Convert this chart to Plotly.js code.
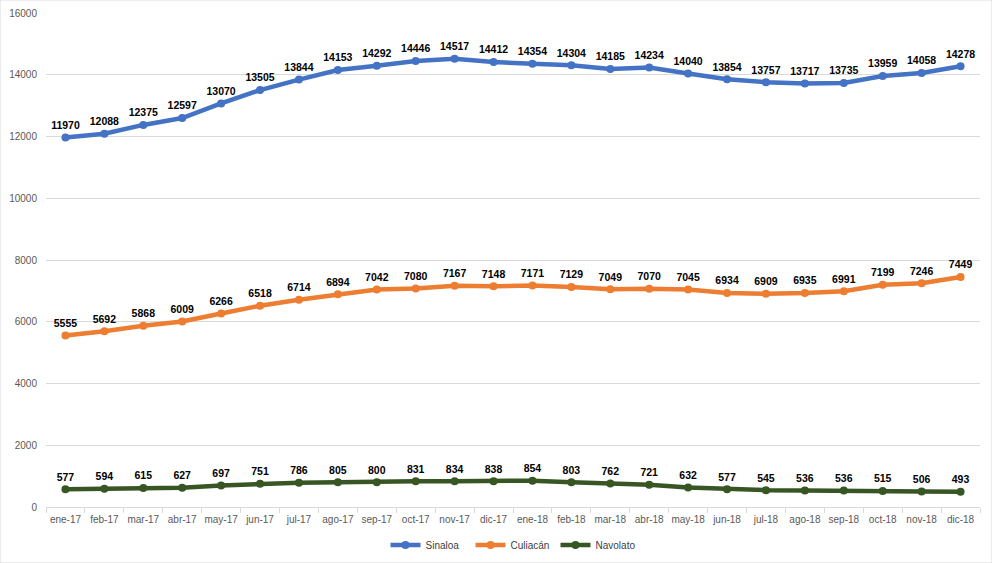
<!DOCTYPE html>
<html>
<head>
<meta charset="utf-8">
<script src="https://cdn.plot.ly/plotly-3.0.1.min.js"></script>
<style>
  html, body { margin: 0; padding: 0; background: #ffffff; }
  #chart { width: 992px; height: 563px; }
</style>
</head>
<body>
<div id="chart"></div>
<script>
// Monthly months, Jan 2017 – Dec 2018
const months = ["ene-17","feb-17","mar-17","abr-17","may-17","jun-17","jul-17","ago-17","sep-17","oct-17","nov-17","dic-17",
                "ene-18","feb-18","mar-18","abr-18","may-18","jun-18","jul-18","ago-18","sep-18","oct-18","nov-18","dic-18"];

const sinaloa = [11970,12088,12375,12597,13070,13505,13844,14153,14292,14446,14517,14412,
                 14354,14304,14185,14234,14040,13854,13757,13717,13735,13959,14058,14278];

const culiacan = [5555,5692,5868,6009,6266,6518,6714,6894,7042,7080,7167,7148,
                  7171,7129,7049,7070,7045,6934,6909,6935,6991,7199,7246,7449];

const navolato = [577,594,615,627,697,751,786,805,800,831,834,838,
                  854,803,762,721,632,577,545,536,536,515,506,493];

const yTicks = [0,2000,4000,6000,8000,10000,12000,14000,16000];

const labelFont = { family: "Liberation Sans, Arial, sans-serif", size: 10.5, color: "#000000", weight: "bold" };

function series(name, values, color) {
  return {
    type: "scatter",
    mode: "lines+markers+text",
    name: name,
    x: months,
    y: values,
    text: values.map(String),
    textposition: "top center",
    textfont: labelFont,
    line: { color: color, width: 4.5 },
    marker: { color: color, size: 8 },
    cliponaxis: false,
    hoverinfo: "x+y"
  };
}

const data = [
  series("Sinaloa", sinaloa, "#4472C4"),
  series("Culiacán", culiacan, "#ED7D31"),
  series("Navolato", navolato, "#375623")
];

const layout = {
  width: 992,
  height: 563,
  margin: { l: 46, r: 12, t: 13, b: 56, autoexpand: false },
  paper_bgcolor: "#ffffff",
  plot_bgcolor: "#ffffff",
  font: { family: "Liberation Sans, Arial, sans-serif", size: 10, color: "#595959" },
  showlegend: true,
  legend: {
    orientation: "h",
    x: 0.5, xanchor: "center",
    yref: "container",
    y: 0.032, yanchor: "middle",
    font: { size: 10, color: "#404040" },
    itemwidth: 30,
    entrywidth: 40,
    tracegroupgap: 0
  },
  xaxis: {
    type: "category",
    range: [-0.5, 23.5],
    automargin: false,
    showgrid: false,
    showline: true,
    linecolor: "#d9d9d9",
    linewidth: 1,
    ticks: "outside",
    tickson: "boundaries",
    ticklen: 5,
    tickcolor: "#d9d9d9",
    tickangle: 0,
    ticklabelstandoff: 3,
    tickfont: { size: 10, color: "#595959" },
    zeroline: false,
    fixedrange: true
  },
  yaxis: {
    range: [0, 16000],
    automargin: false,
    tickvals: yTicks,
    ticktext: yTicks.map(String),
    showgrid: true,
    gridcolor: "#d9d9d9",
    gridwidth: 1,
    zeroline: false,
    showline: false,
    ticks: "",
    ticklabelstandoff: 8,
    tickfont: { size: 10, color: "#595959" },
    fixedrange: true
  },
  shapes: [{
    type: "rect", xref: "paper", yref: "paper",
    x0: -46/934, x1: 1 + 12/934, y0: -56/494, y1: 1 + 13/494,
    line: { color: "#d9d9d9", width: 1 }
  }]
};

Plotly.newPlot("chart", data, layout, { displayModeBar: false, staticPlot: true });
</script>
</body>
</html>
